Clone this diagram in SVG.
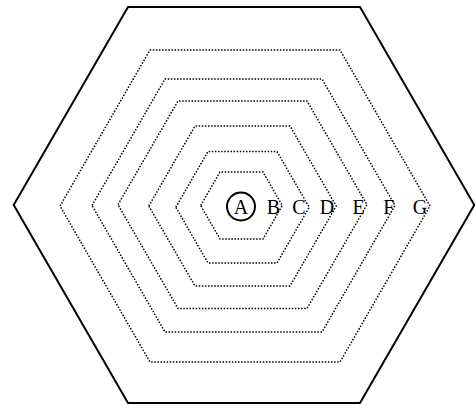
<svg xmlns="http://www.w3.org/2000/svg" width="475" height="406" viewBox="0 0 475 406">
<style>
  .outer { fill: none; stroke: #000; stroke-width: 2; stroke-linejoin: miter; }
  .dot { fill: none; stroke: #000; stroke-width: 1.5; stroke-dasharray: 1.5 1.6; }
  .lbl { font-family: "Liberation Serif", "Times New Roman", serif; font-size: 20px; text-anchor: middle; fill: #000; }
  .ring { fill: none; stroke: #000; stroke-width: 2; }
</style>
<rect width="475" height="406" fill="#fff"/>
<g id="outer-hexagon">
  <polygon class="outer" points="13.7,205 128,7 360,7 474.3,205 360,403 128,403"/>
</g>
<g id="hex-G"><polygon class="dot" points="60,206 150,50 340,50 430,206 340,362 150,362"/></g>
<g id="hex-F"><polygon class="dot" points="92,205.5 165,79 322,79 395,205.5 322,332 165,332"/></g>
<g id="hex-E"><polygon class="dot" points="118,204.7 178,101 307,101 367,204.7 307,308.5 178,308.5"/></g>
<g id="hex-D"><polygon class="dot" points="148.8,206 195,126 290,126 336.2,206 290,286 195,286"/></g>
<g id="hex-C"><polygon class="dot" points="175.8,207.2 208,151.5 277,151.5 309.2,207.2 277,263 208,263"/></g>
<g id="hex-B"><polygon class="dot" points="200.7,205.5 220,172 263,172 282.3,205.5 263,239 220,239"/></g>
<g id="node-A">
  <circle class="ring" cx="241" cy="206.5" r="14"/>
  <text class="lbl" x="241" y="214">A</text>
</g>
<g id="node-B"><text class="lbl" x="273.3" y="214">B</text></g>
<g id="node-C"><text class="lbl" x="299" y="214">C</text></g>
<g id="node-D"><text class="lbl" x="327" y="214">D</text></g>
<g id="node-E"><text class="lbl" x="358.7" y="214">E</text></g>
<g id="node-F"><text class="lbl" x="388.7" y="214">F</text></g>
<g id="node-G"><text class="lbl" x="420" y="214">G</text></g>
<g id="connectors"/>
</svg>
